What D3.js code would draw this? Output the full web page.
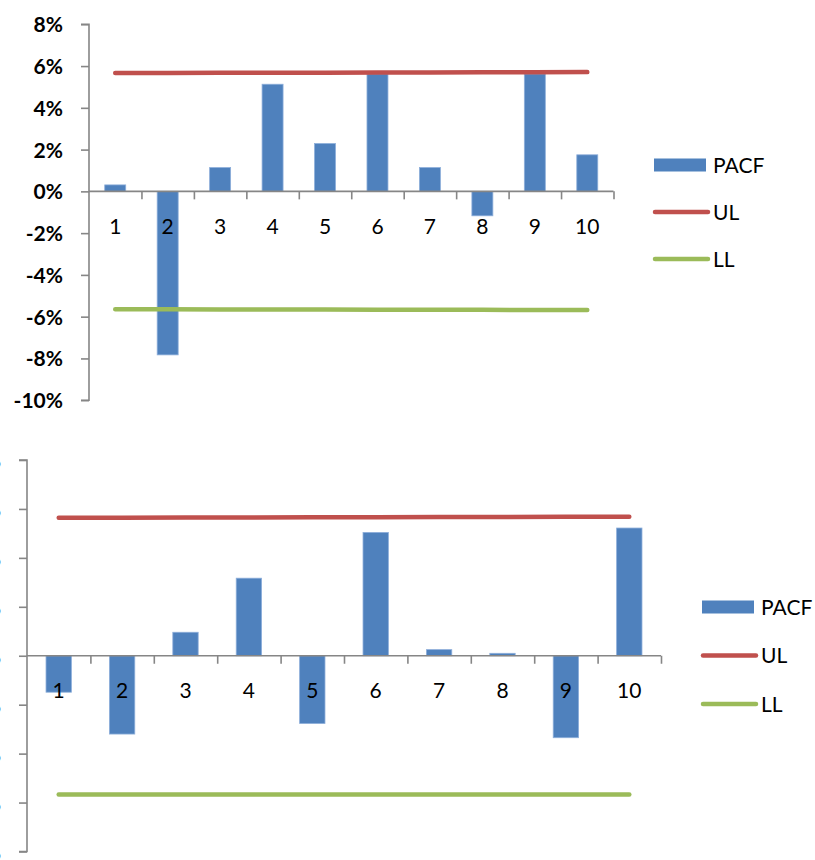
<!DOCTYPE html>
<html>
<head>
<meta charset="utf-8">
<script src="https://cdn.jsdelivr.net/npm/d3@7"></script>
<style>
  html, body { margin: 0; padding: 0; background: #ffffff; }
  svg { display: block; }
  text { font-family: Lato, "Open Sans", sans-serif; fill: #000; }
</style>
</head>
<body>
<svg id="chart" width="815" height="860"></svg>
<script>
// Lags shown on the category axis
const lags = [1, 2, 3, 4, 5, 6, 7, 8, 9, 10];

// Upper panel: partial autocorrelations and confidence limits
const pacfUpper = [0.0031, -0.0783, 0.0114, 0.0513, 0.0229, 0.0562, 0.0114, -0.0117, 0.0562, 0.0175];
const ulUpper = [0.0567, 0.0567, 0.0568, 0.0568, 0.0568, 0.0569, 0.0569, 0.0570, 0.0570, 0.0571];
const llUpper = [-0.0565, -0.0565, -0.0566, -0.0566, -0.0566, -0.0567, -0.0567, -0.0567, -0.0568, -0.0568];
const ticksUpper = [-0.10, -0.08, -0.06, -0.04, -0.02, 0, 0.02, 0.04, 0.06, 0.08];

// Lower panel: partial autocorrelations and confidence limits
const pacfLower = [-0.0149, -0.0320, 0.0096, 0.0317, -0.0277, 0.0504, 0.0025, 0.0010, -0.0335, 0.0522];
const ulLower = [0.0564, 0.0564, 0.0565, 0.0565, 0.0566, 0.0566, 0.0567, 0.0567, 0.0568, 0.0568];
const llLower = [-0.0567, -0.0567, -0.0567, -0.0567, -0.0567, -0.0567, -0.0567, -0.0567, -0.0567, -0.0567];
const ticksLower = [-0.08, -0.06, -0.04, -0.02, 0, 0.02, 0.04, 0.06, 0.08];

// Legend entries
const legendNames = ["PACF", "UL", "LL"];

const COLORS = { bar: "#4F81BD", barEdge: "#8DAEDA", ul: "#C0504D", ll: "#9BBB59", axis: "#868686" };
const pct = d => (Math.round(d * 100) === 0 ? "0" : String(Math.round(d * 100))) + "%";

const svg = d3.select("#chart");

function drawPanel(p) {
  const g = svg.append("g");

  const y = d3.scaleLinear().domain([d3.min(p.ticks), d3.max(p.ticks)]).range([p.bottom, p.top]);
  const xBand = d3.scaleBand().domain(lags).range([p.left, p.right]).paddingInner(0.6).paddingOuter(0.3);
  const xEdge = d3.scaleLinear().domain([0, lags.length]).range([p.left, p.right]);
  const xMid = d => xBand(d) + xBand.bandwidth() / 2;

  // bars
  g.append("g").selectAll("rect").data(lags.map((l, i) => ({ lag: l, v: p.pacf[i] }))).join("rect")
    .attr("x", d => xBand(d.lag))
    .attr("width", xBand.bandwidth())
    .attr("y", d => y(Math.max(0, d.v)))
    .attr("height", d => Math.abs(y(d.v) - y(0)))
    .attr("fill", COLORS.bar)
    .attr("stroke", COLORS.barEdge)
    .attr("stroke-width", 0.8);

  // y axis
  const yAxis = g.append("g").attr("transform", `translate(${p.left},0)`)
    .call(d3.axisLeft(y).tickValues(p.ticks).tickSize(8).tickPadding(18).tickFormat(pct));
  yAxis.select(".domain").attr("stroke", COLORS.axis).attr("stroke-width", 1.6)
    .attr("d", `M-8,${p.top}H0V${p.bottom}H-8`);
  yAxis.selectAll(".tick line").attr("stroke", COLORS.axis).attr("stroke-width", 1.6);
  yAxis.selectAll(".tick text").attr("font-size", 21).attr("font-weight", "bold")
    .attr("font-family", "Lato, sans-serif").attr("fill", "#000").attr("dy", "0.36em");

  // x axis at zero with tick marks between categories
  const xAxis = g.append("g").attr("transform", `translate(0,${y(0)})`)
    .call(d3.axisBottom(xEdge).tickValues(d3.range(1, lags.length + 1)).tickSize(8).tickFormat(""));
  xAxis.select(".domain").attr("stroke", COLORS.axis).attr("stroke-width", 1.6)
    .attr("d", `M${p.left},0H${p.right}`);
  xAxis.selectAll(".tick line").attr("stroke", COLORS.axis).attr("stroke-width", 1.6);

  // category labels
  const xLab = g.append("g").attr("transform", `translate(0,${y(0) + p.labelOffset})`)
    .call(d3.axisBottom(xBand).tickSize(0).tickPadding(0));
  xLab.select(".domain").remove();
  xLab.selectAll(".tick text").attr("font-size", 21).attr("font-family", "Lato, sans-serif")
    .attr("fill", "#000").attr("dy", "0.36em");

  // confidence limit lines
  const line = d3.line().x((d, i) => xMid(lags[i])).y(d => y(d));
  [[p.ul, COLORS.ul], [p.ll, COLORS.ll]].forEach(([vals, c]) => {
    g.append("path").datum(vals).attr("d", line).attr("fill", "none")
      .attr("stroke", c).attr("stroke-width", 4.5).attr("stroke-linecap", "round");
  });

  // legend
  const lg = g.append("g").attr("transform", `translate(${p.legendX},${p.legendY})`);
  legendNames.forEach((name, i) => {
    const row = lg.append("g").attr("transform", `translate(0,${i * p.legendStep})`);
    if (i === 0) {
      row.append("rect").attr("x", 0).attr("y", -6.5).attr("width", 52).attr("height", 13).attr("fill", COLORS.bar);
    } else {
      row.append("line").attr("x1", 1).attr("x2", 54).attr("y1", 0).attr("y2", 0)
        .attr("stroke", i === 1 ? COLORS.ul : COLORS.ll).attr("stroke-width", 4.5).attr("stroke-linecap", "round");
    }
    row.append("text").attr("x", 59).attr("y", 0).attr("dy", "0.36em")
      .attr("font-size", 21).text(name);
  });
}

drawPanel({
  pacf: pacfUpper, ul: ulUpper, ll: llUpper, ticks: ticksUpper,
  left: 89, right: 613.5, top: 24.3, bottom: 400.2, labelOffset: 35,
  legendX: 654, legendY: 165, legendStep: 47
});

drawPanel({
  pacf: pacfLower, ul: ulLower, ll: llLower, ticks: ticksLower,
  left: 27, right: 661, top: 460, bottom: 851.5, labelOffset: 34.5,
  legendX: 702, legendY: 607, legendStep: 48.5
});
</script>
</body>
</html>
